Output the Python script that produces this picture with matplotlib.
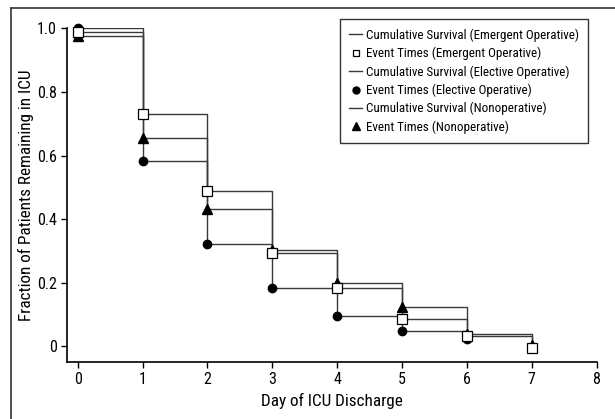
import matplotlib
matplotlib.use("Agg")
import matplotlib.pyplot as plt
from matplotlib.lines import Line2D

plt.rcParams["font.family"] = ["Roboto Condensed", "Liberation Sans", "DejaVu Sans"]

# Fraction of patients still in the ICU at each discharge day
days = [0, 1, 2, 3, 4, 5, 6, 7]
emergent = [0.99, 0.731, 0.489, 0.294, 0.183, 0.085, 0.034, -0.005]
elective_days = [0, 1, 2, 3, 4, 5, 6]
elective = [1.0, 0.583, 0.322, 0.185, 0.097, 0.048, 0.024]
nonop = [0.975, 0.654, 0.432, 0.302, 0.200, 0.124, 0.040, 0.004]

x_ticks = [0, 1, 2, 3, 4, 5, 6, 7, 8]
y_ticks = [0, 0.2, 0.4, 0.6, 0.8, 1.0]
y_tick_labels = ["0", "0.2", "0.4", "0.6", "0.8", "1.0"]

line_color = "#3a3a3a"

fig = plt.figure(figsize=(6.15, 4.19), dpi=100)
ax = fig.add_axes([0.1085, 0.1353, 0.8615, 0.7967])

# survival curves (step functions)
ax.step(days, nonop, where="post", color=line_color, lw=1.0, zorder=2)
ax.step(elective_days, elective, where="post", color=line_color, lw=1.0, zorder=2)
ax.step(days, emergent, where="post", color=line_color, lw=1.0, zorder=2)

# event markers
ax.plot(days, nonop, linestyle="none", marker="^", ms=7, color="black",
        clip_on=False, zorder=3)
ax.plot(elective_days, elective, linestyle="none", marker="o", ms=6, color="black",
        clip_on=False, zorder=4)
ax.plot(days, emergent, linestyle="none", marker="s", ms=6.5, mfc="white",
        mec="black", mew=0.9, clip_on=False, zorder=5)

ax.set_xlim(-0.17, 8)
ax.set_ylim(-0.05, 1.0)
ax.set_xticks(x_ticks)
ax.set_yticks(y_ticks)
ax.set_yticklabels(y_tick_labels)
ax.tick_params(direction="out", length=4, width=1, labelsize=11.5, pad=3)
for side in ("top", "right"):
    ax.spines[side].set_visible(False)
for side in ("left", "bottom"):
    ax.spines[side].set_linewidth(1.2)

ax.set_xlabel("Day of ICU Discharge", fontsize=12.3, labelpad=4)
ax.set_ylabel("Fraction of Patients Remaining in ICU", fontsize=12.3, labelpad=2)

handles = [
    Line2D([], [], color=line_color, lw=1.0),
    Line2D([], [], linestyle="none", marker="s", ms=4.8, mfc="white", mec="black", mew=0.9),
    Line2D([], [], color=line_color, lw=1.0),
    Line2D([], [], linestyle="none", marker="o", ms=5, color="black"),
    Line2D([], [], color=line_color, lw=1.0),
    Line2D([], [], linestyle="none", marker="^", ms=5.5, color="black"),
]
labels = [
    "Cumulative Survival (Emergent Operative)",
    "Event Times (Emergent Operative)",
    "Cumulative Survival (Elective Operative)",
    "Event Times (Elective Operative)",
    "Cumulative Survival (Nonoperative)",
    "Event Times (Nonoperative)",
]
leg = ax.legend(handles, labels, loc="upper right", bbox_to_anchor=(0.984, 1.028),
                borderaxespad=0, fontsize=9.4, handlelength=1.03, handletextpad=0.25,
                labelspacing=0.38, borderpad=0.72, fancybox=False, frameon=True)
leg.get_frame().set_edgecolor("black")
leg.get_frame().set_linewidth(1.0)

# frame lines along the left and top edges
fig.add_artist(Line2D([11 / 615, 11 / 615], [0, 1 - 8 / 419], color="#333333",
                      lw=1.2, transform=fig.transFigure))
fig.add_artist(Line2D([11 / 615, 1], [1 - 8 / 419, 1 - 8 / 419], color="#333333",
                      lw=1.2, transform=fig.transFigure))

fig.savefig("out.png", dpi=100)
